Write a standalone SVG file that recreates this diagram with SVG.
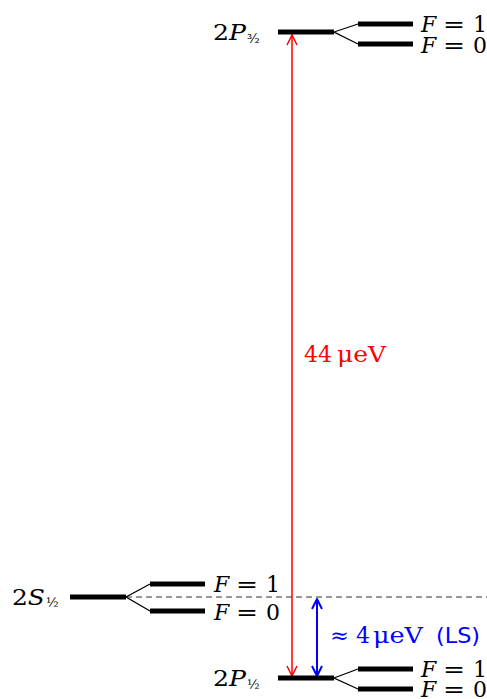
<svg xmlns="http://www.w3.org/2000/svg" width="487" height="699" viewBox="0 0 487 699">
<defs>
<style>
.lvl{stroke:#000;stroke-width:5;fill:none}
.thin{stroke:#000;stroke-width:1.3;fill:none}
.t{font-family:"DejaVu Serif","Liberation Serif",serif;font-size:22px;fill:#000}
.sub{font-family:"DejaVu Serif","Liberation Serif",serif;font-size:13px;fill:#000}
.it{font-style:italic}
.r{fill:#f00}
.b{fill:#00f}
</style>
<marker id="ar" viewBox="0 0 12 12" refX="11" refY="6" markerWidth="12" markerHeight="12" markerUnits="userSpaceOnUse" orient="auto-start-reverse">
<path d="M1,1 L11,6 L1,11" fill="none" stroke="context-stroke" stroke-width="1.5"/>
</marker>
<marker id="ar2" viewBox="0 0 12 12" refX="11" refY="6" markerWidth="12" markerHeight="12" markerUnits="userSpaceOnUse" orient="auto-start-reverse">
<path d="M1,1 L11,6 L1,11" fill="none" stroke="context-stroke" stroke-width="2"/>
</marker>
</defs>
<g id="connectors">
<line x1="126" y1="597" x2="487" y2="597" stroke="#333" stroke-width="1" stroke-dasharray="6,4"/>
<line x1="292" y1="35" x2="292" y2="676" stroke="#f00" stroke-width="1.5" marker-start="url(#ar)" marker-end="url(#ar)"/>
<line x1="317" y1="599" x2="317" y2="676" stroke="#00f" stroke-width="2" marker-start="url(#ar2)" marker-end="url(#ar2)"/>
<text x="304" y="362" class="t r">44<tspan x="337" textLength="49" lengthAdjust="spacingAndGlyphs">μeV</tspan></text>
<text x="330" y="643" class="t b" textLength="19" lengthAdjust="spacingAndGlyphs">≈</text>
<text x="356" y="643" class="t b">4<tspan x="373" textLength="50" lengthAdjust="spacingAndGlyphs">μeV</tspan></text>
<text x="436" y="643" class="b" style="font-family:'DejaVu Sans',sans-serif;font-size:21px" textLength="44" lengthAdjust="spacingAndGlyphs">(LS)</text>
</g>
<g id="P32">
<line class="lvl" x1="278" y1="32" x2="334" y2="32"/>
<path class="thin" d="M358,24 L334,32 L358,44"/>
<line class="lvl" x1="358" y1="24" x2="413" y2="24"/>
<line class="lvl" x1="358" y1="44" x2="413" y2="44"/>
<text class="t" x="213" y="40" textLength="33" lengthAdjust="spacingAndGlyphs">2<tspan class="it">P</tspan></text>
<text class="sub" x="247" y="43">³⁄₂</text>
<text class="t" x="421" y="32"><tspan class="it">F</tspan><tspan x="473">1</tspan></text>
<text class="t" x="443" y="32" textLength="22" lengthAdjust="spacingAndGlyphs">=</text>
<text class="t" x="421" y="53"><tspan class="it">F</tspan><tspan x="473">0</tspan></text>
<text class="t" x="443" y="53" textLength="22" lengthAdjust="spacingAndGlyphs">=</text>
</g>
<g id="S12">
<line class="lvl" x1="70" y1="597" x2="126" y2="597"/>
<path class="thin" d="M150,584 L126,597 L150,611"/>
<line class="lvl" x1="150" y1="584" x2="205" y2="584"/>
<line class="lvl" x1="150" y1="611" x2="205" y2="611"/>
<text class="t" x="12" y="605" textLength="33" lengthAdjust="spacingAndGlyphs">2<tspan class="it">S</tspan></text>
<text class="sub" x="46" y="607">½</text>
<text class="t" x="214" y="592"><tspan class="it">F</tspan><tspan x="266">1</tspan></text>
<text class="t" x="236" y="592" textLength="22" lengthAdjust="spacingAndGlyphs">=</text>
<text class="t" x="214" y="620"><tspan class="it">F</tspan><tspan x="266">0</tspan></text>
<text class="t" x="236" y="620" textLength="22" lengthAdjust="spacingAndGlyphs">=</text>
</g>
<g id="P12">
<line class="lvl" x1="278" y1="678" x2="334" y2="678"/>
<path class="thin" d="M358,669 L334,678 L358,689"/>
<line class="lvl" x1="358" y1="669" x2="413" y2="669"/>
<line class="lvl" x1="358" y1="689" x2="413" y2="689"/>
<text class="t" x="213" y="686" textLength="33" lengthAdjust="spacingAndGlyphs">2<tspan class="it">P</tspan></text>
<text class="sub" x="247" y="689">½</text>
<text class="t" x="421" y="677"><tspan class="it">F</tspan><tspan x="473">1</tspan></text>
<text class="t" x="443" y="677" textLength="22" lengthAdjust="spacingAndGlyphs">=</text>
<text class="t" x="421" y="697"><tspan class="it">F</tspan><tspan x="473">0</tspan></text>
<text class="t" x="443" y="697" textLength="22" lengthAdjust="spacingAndGlyphs">=</text>
</g>
</svg>
